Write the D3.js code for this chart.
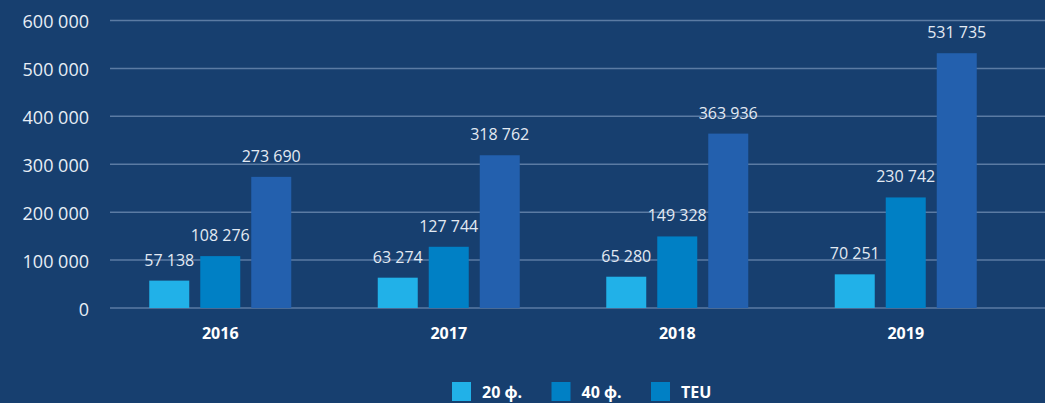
<!DOCTYPE html>
<html><head><meta charset="utf-8">
<script src="https://cdn.jsdelivr.net/npm/d3@7"></script>
<style>
html,body{margin:0;padding:0;background:#173f6f;}
svg{display:block;}
</style></head>
<body>
<svg id="c" width="1045" height="403"></svg>
<script>
const years = ["2016","2017","2018","2019"];
const seriesNames = ["20 ф.","40 ф.","TEU"];
const values20 = [57138, 63274, 65280, 70251];
const values40 = [108276, 127744, 149328, 230742];
const valuesTEU = [273690, 318762, 363936, 531735];
const yTicks = [0,100000,200000,300000,400000,500000,600000];
const barColors = ["#21b1e8","#0080c5","#2360ae"];
const legendColors = ["#21b1e8","#0080c5","#0080c5"];

const series = [values20, values40, valuesTEU];
const svg = d3.select("#c");
const fmt = v => d3.format(",")(v).replace(/,/g, " ");

const y = d3.scaleLinear().domain([0,600000]).range([308,20.5]);
const x = d3.scaleBand().domain(years).range([106,1020]);
const xi = d3.scaleBand().domain(d3.range(3)).range([0,142]).paddingInner(11/51);

// grid
const yAxis = d3.axisLeft(y).tickValues(yTicks).tickFormat(fmt).tickSize(0).tickPadding(0);
const ga = svg.append("g").attr("transform","translate(89,0)").call(yAxis);
ga.select(".domain").remove();
ga.selectAll("text").attr("fill","#e8eef6").style("font-family","Open Sans").style("font-size","18px").attr("dy","0.4em");

svg.append("g").selectAll("line").data(yTicks).join("line")
  .attr("x1",110).attr("x2",1045)
  .attr("y1",d=>y(d)).attr("y2",d=>y(d))
  .attr("stroke","#5b7ba3").attr("stroke-width",1.5);

// bars
const groups = svg.append("g").selectAll("g").data(years).join("g")
  .attr("transform",d=>`translate(${x(d)+x.bandwidth()/2-71},0)`);

groups.each(function(yr, gi){
  const g = d3.select(this);
  series.forEach((s, si) => {
    g.append("rect")
      .attr("x", xi(si)).attr("width", xi.bandwidth())
      .attr("y", y(s[gi])).attr("height", y(0)-y(s[gi]))
      .attr("fill", barColors[si]);
    g.append("text")
      .attr("x", xi(si)+xi.bandwidth()/2).attr("y", y(s[gi])-15)
      .attr("text-anchor","middle")
      .attr("fill","#e3eaf3").style("font-family","Open Sans").style("font-size","16px")
      .text(fmt(s[gi]));
  });
});

// x axis labels
const xAxis = d3.axisBottom(x).tickSize(0).tickPadding(0);
const gx = svg.append("g").attr("transform","translate(0,339)").call(xAxis);
gx.select(".domain").remove();
gx.selectAll("text").attr("dy",0).attr("fill","#ffffff").style("font-family","Open Sans").style("font-size","16px").style("font-weight","700");

// legend
const lx = d3.scalePoint().domain(seriesNames).range([452,651]);
const lg = svg.append("g").selectAll("g").data(seriesNames).join("g")
  .attr("transform",d=>`translate(${lx(d)},382)`);
lg.append("rect").attr("width",19).attr("height",19).attr("fill",(d,i)=>legendColors[i]);
lg.append("text").attr("x",30).attr("y",16).attr("fill","#ffffff")
  .style("font-family","Open Sans").style("font-size","16px").style("font-weight","700").text(d=>d);
</script>
</body></html>
